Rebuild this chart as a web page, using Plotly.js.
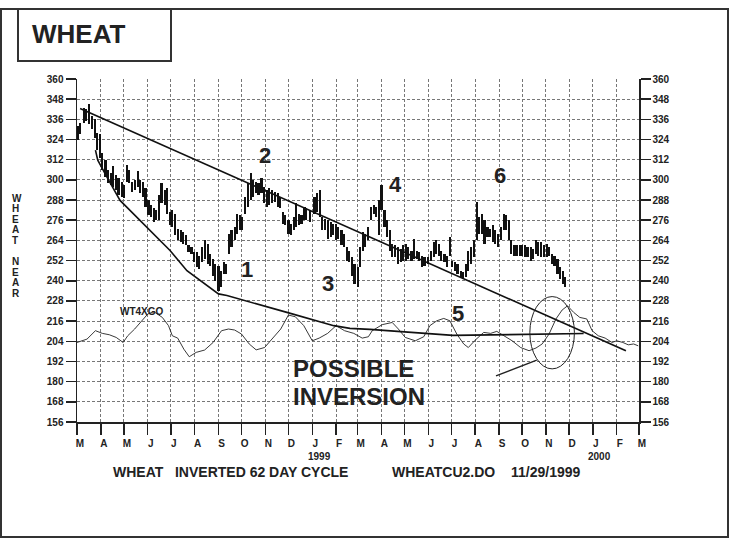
<!DOCTYPE html>
<html>
<head>
<meta charset="utf-8">
<script src="https://cdn.plot.ly/plotly-3.0.1.min.js"></script>
<style>
html, body { margin: 0; padding: 0; background: #fff; }
#chart { width: 731px; height: 539px; }
</style>
</head>
<body>
<div id="chart"></div>
<script>
// half-weekly high/low bars
var barDates = [
  '1998-03-02','1998-03-05','1998-03-10','1998-03-13','1998-03-17','1998-03-20','1998-03-24','1998-03-27','1998-03-31',
  '1998-04-03','1998-04-07','1998-04-10','1998-04-14','1998-04-17','1998-04-21','1998-04-24','1998-04-28',
  '1998-05-01','1998-05-05','1998-05-08','1998-05-12','1998-05-15','1998-05-19','1998-05-22','1998-05-26','1998-05-29',
  '1998-06-02','1998-06-05','1998-06-09','1998-06-12','1998-06-16','1998-06-19','1998-06-23','1998-06-26','1998-06-30',
  '1998-07-03','1998-07-07','1998-07-10','1998-07-14','1998-07-17','1998-07-21','1998-07-24','1998-07-28','1998-07-31',
  '1998-08-04','1998-08-07','1998-08-11','1998-08-14','1998-08-18','1998-08-21','1998-08-25','1998-08-28',
  '1998-09-01','1998-09-04','1998-09-08','1998-09-11','1998-09-15','1998-09-18','1998-09-22','1998-09-25','1998-09-29',
  '1998-10-02','1998-10-06','1998-10-09','1998-10-13','1998-10-16','1998-10-20','1998-10-23','1998-10-27','1998-10-30',
  '1998-11-03','1998-11-06','1998-11-10','1998-11-13','1998-11-17','1998-11-20','1998-11-24','1998-11-27',
  '1998-12-01','1998-12-04','1998-12-08','1998-12-11','1998-12-15','1998-12-18','1998-12-22','1998-12-24','1998-12-29',
  '1999-01-04','1999-01-07','1999-01-11','1999-01-14','1999-01-18','1999-01-21','1999-01-25','1999-01-28',
  '1999-02-01','1999-02-04','1999-02-08','1999-02-11','1999-02-15','1999-02-18','1999-02-22','1999-02-25',
  '1999-03-01','1999-03-04','1999-03-08','1999-03-11','1999-03-15','1999-03-18','1999-03-22','1999-03-25','1999-03-29',
  '1999-04-01','1999-04-05','1999-04-08','1999-04-12','1999-04-15','1999-04-19','1999-04-22','1999-04-26','1999-04-29',
  '1999-05-03','1999-05-06','1999-05-10','1999-05-13','1999-05-17','1999-05-20','1999-05-24','1999-05-27',
  '1999-06-01','1999-06-04','1999-06-08','1999-06-11','1999-06-15','1999-06-18','1999-06-22','1999-06-25','1999-06-29',
  '1999-07-02','1999-07-06','1999-07-09','1999-07-13','1999-07-16','1999-07-20','1999-07-23','1999-07-27','1999-07-30',
  '1999-08-03','1999-08-06','1999-08-10','1999-08-13','1999-08-17','1999-08-20','1999-08-24','1999-08-27','1999-08-31',
  '1999-09-03','1999-09-07','1999-09-10','1999-09-14','1999-09-17','1999-09-21','1999-09-24','1999-09-28',
  '1999-10-01','1999-10-05','1999-10-08','1999-10-12','1999-10-15','1999-10-19','1999-10-22','1999-10-26','1999-10-29',
  '1999-11-02','1999-11-05','1999-11-09','1999-11-12','1999-11-16','1999-11-19','1999-11-23','1999-11-26'
];
var highs = [
  332,334,343,342,345,338,336,328,327,
  316,312,306,304,308,303,301,299,
  297,309,306,299,300,305,300,299,295,
  288,285,283,282,291,298,294,295,281,
  282,280,271,270,269,267,261,260,257,
  257,255,260,264,262,256,253,250,
  249,246,251,250,268,270,272,280,279,
  278,290,298,304,300,299,298,301,296,
  294,295,294,293,292,290,281,279,
  276,274,278,286,280,279,284,283,282,
  290,292,294,278,277,276,275,274,
  274,272,270,268,260,258,254,250,
  248,260,269,268,272,284,285,284,288,
  297,282,276,270,262,261,260,259,261,
  262,260,258,265,258,257,255,254,
  254,258,263,264,262,258,256,255,266,
  252,251,250,246,245,250,258,260,264,
  287,278,280,276,272,271,273,270,268,
  272,280,279,276,264,261,261,261,
  261,261,260,260,259,264,263,263,261,
  262,260,256,255,253,248,246,242
];
var lows = [
  324,327,334,335,333,330,325,318,313,
  306,302,298,297,296,294,291,290,
  289,299,298,293,294,296,292,290,284,
  279,278,275,276,276,286,285,280,273,
  272,267,264,263,262,261,257,256,251,
  248,247,251,253,250,249,243,240,
  234,236,244,244,256,260,264,268,270,
  270,280,284,288,290,292,291,292,286,
  284,285,286,287,284,283,274,273,
  268,267,270,272,273,274,276,276,275,
  280,281,278,270,270,265,266,267,
  264,265,261,260,252,251,243,238,
  236,248,258,260,264,276,280,278,267,
  282,272,266,258,254,254,250,251,252,
  252,253,252,253,253,252,248,249,
  250,252,254,256,255,252,251,248,255,
  248,246,244,242,241,242,246,250,254,
  264,268,268,262,266,266,263,262,260,
  264,270,270,264,256,255,255,255,
  255,254,254,252,253,256,255,254,254,
  254,255,250,249,244,241,238,236
];

// WT4XGO cycle line
var oscDates = [
  '1998-03-01','1998-03-14','1998-03-25','1998-04-03','1998-04-12','1998-04-21','1998-04-30','1998-05-06',
  '1998-05-15','1998-05-24','1998-06-01','1998-06-09','1998-06-20','1998-06-28','1998-07-03','1998-07-10',
  '1998-07-18','1998-07-25','1998-08-03','1998-08-14','1998-08-25','1998-09-05','1998-09-14','1998-09-22',
  '1998-10-01','1998-10-11','1998-10-20','1998-10-31','1998-11-10','1998-11-21','1998-12-01','1998-12-10',
  '1998-12-21','1999-01-01','1999-01-10','1999-01-21','1999-02-01','1999-02-12','1999-02-24','1999-03-07',
  '1999-03-15','1999-03-20','1999-04-02','1999-04-15','1999-04-23','1999-05-02','1999-05-15','1999-05-26',
  '1999-06-03','1999-06-12','1999-06-21','1999-06-29','1999-07-08','1999-07-17','1999-07-23','1999-08-01',
  '1999-08-12','1999-08-21','1999-08-29','1999-09-07','1999-09-18','1999-09-29','1999-10-10','1999-10-19',
  '1999-10-27','1999-11-05','1999-11-14','1999-11-22','1999-11-29','1999-12-07','1999-12-15','1999-12-24',
  '1999-12-31','2000-01-08','2000-01-17','2000-01-26','2000-02-01','2000-02-09','2000-02-16','2000-02-23','2000-02-29'
];
var oscValues = [
  203.3,205.3,210.3,208.7,207.9,206.3,203.3,207.3,
  211.3,216.2,220.2,221.6,218.2,213.3,207.3,205.9,
  199.3,194.8,197.4,198.8,203.3,210.3,211.3,210.7,
  208.3,202.4,198.9,200.3,205.3,211.3,219.6,218.6,
  213.3,204.3,205.9,208.7,213.3,210.3,208.7,205.9,
  206.7,210.3,213.9,215.2,211.3,206.3,204.3,206.7,
  213.3,216.2,217.6,216.2,208.3,202.4,200.3,204.7,
  209.3,208.7,209.9,207.3,204.3,200.3,198.4,200.0,
  202.4,208.3,217.3,222.6,225.1,221.2,218.2,217.3,
  210.3,207.3,205.9,203.3,204.3,203.3,201.9,202.4,201.3
];

// drawn lines
var trendDates = ['1998-03-05', '2000-02-13'];
var trendValues = [342.5, 198.4];
var supportDates = ['1998-03-25','1998-03-28','1998-04-09','1998-04-26','1998-06-30','1998-07-22','1998-09-01',
  '1998-09-12','1998-11-29','1999-01-29','1999-02-19','1999-03-17','1999-07-03','1999-12-20'];
var supportValues = [317.7,311.7,301.7,287.8,258,246,232.2,231.2,221.2,213.3,211.7,211.1,207.5,208.6];

var ovalDates = ['1999-10-11', '1999-12-08'];
var ovalValues = [187.6, 230.6];
var pointerDates = ['1999-08-28', '1999-10-20'];
var pointerValues = [183.4, 192.8];

var cycleLabels = ['1', '2', '3', '4', '5', '6'];
var cycleDates = ['1998-10-08','1998-11-01','1999-01-21','1999-04-19','1999-07-10','1999-09-02'];
var cycleValues = [246.5, 314.7, 238.1, 297.4, 220.3, 302.7];

var monthLetters = ['M','A','M','J','J','A','S','O','N','D','J','F','M','A','M','J','J','A','S','O','N','D','J','F','M'];
var priceTicks = [156,168,180,192,204,216,228,240,252,264,276,288,300,312,324,336,348,360];

var FONT = 'Liberation Sans, Arial, Helvetica, sans-serif';

// plot area in pixels: left 77, right 639, top 79, bottom 422
function px(x) { return (x - 77) / 562; }
function py(y) { return (422 - y) / 343; }

var monthTicks = [];
for (var i = 0; i < monthLetters.length; i++) {
  var yr = 1998 + Math.floor((2 + i) / 12);
  var mo = (2 + i) % 12 + 1;
  monthTicks.push(yr + '-' + (mo < 10 ? '0' + mo : mo) + '-01');
}

var barSpan = [];
for (var k = 0; k < highs.length; k++) barSpan.push(highs[k] - lows[k]);

var traces = [
  {
    x: barDates, y: barSpan, base: lows, type: 'bar',
    width: 2.8 * 86400000,
    marker: {color: '#111', line: {width: 0}},
    hoverinfo: 'skip'
  },
  {
    x: oscDates, y: oscValues, mode: 'lines',
    line: {color: '#222', width: 0.9},
    hoverinfo: 'skip'
  },
  {
    x: supportDates, y: supportValues, mode: 'lines',
    line: {color: '#111', width: 1.6},
    hoverinfo: 'skip'
  },
  {
    x: trendDates, y: trendValues, mode: 'lines', yaxis: 'y2',
    line: {color: '#111', width: 1.6},
    hoverinfo: 'skip'
  }
];

var annotations = [
  {xref: 'paper', yref: 'paper', x: px(30), y: py(34), xanchor: 'left', yanchor: 'middle',
   text: 'WHEAT', showarrow: false, font: {family: FONT, size: 26, weight: 'bold', color: '#222'}},
  {x: '1998-05-24', y: 222, text: 'WT4XGO', showarrow: false, yanchor: 'middle',
   font: {family: FONT, size: 10, weight: 'bold', color: '#222'}},
  {x: '1998-12-04', y: 187.6, xanchor: 'left', text: 'POSSIBLE', showarrow: false,
   font: {family: FONT, size: 24, weight: 'bold', color: '#222'}},
  {x: '1998-12-04', y: 170.9, xanchor: 'left', text: 'INVERSION', showarrow: false,
   font: {family: FONT, size: 24, weight: 'bold', color: '#222'}},
  {x: '1999-01-01', xshift: 7, xref: 'x', yref: 'paper', y: py(456), yanchor: 'middle', text: '1999', showarrow: false,
   font: {family: FONT, size: 10, weight: 'bold', color: '#222'}},
  {x: '2000-01-01', xshift: 7, xref: 'x', yref: 'paper', y: py(456), yanchor: 'middle', text: '2000', showarrow: false,
   font: {family: FONT, size: 10, weight: 'bold', color: '#222'}},
  {xref: 'paper', yref: 'paper', x: px(111), y: py(472), xanchor: 'left', yanchor: 'middle',
   text: 'WHEAT&nbsp;&nbsp;&nbsp;INVERTED 62 DAY CYCLE',
   showarrow: false, font: {family: FONT, size: 14, weight: 'bold', color: '#222'}},
  {xref: 'paper', yref: 'paper', x: px(390), y: py(472), xanchor: 'left', yanchor: 'middle', text: 'WHEATCU2.DO',
   showarrow: false, font: {family: FONT, size: 14, weight: 'bold', color: '#222'}},
  {xref: 'paper', yref: 'paper', x: px(509), y: py(472), xanchor: 'left', yanchor: 'middle', text: '11/29/1999',
   showarrow: false, font: {family: FONT, size: 14, weight: 'bold', color: '#222'}}
];

for (var c = 0; c < cycleLabels.length; c++) {
  annotations.push({x: cycleDates[c], y: cycleValues[c], text: cycleLabels[c], showarrow: false,
    font: {family: FONT, size: 22, weight: 'bold', color: '#222'}});
}

// vertical axis title, one letter per line
var yTitle = 'WHEAT NEAR';
for (var t = 0; t < yTitle.length; t++) {
  if (yTitle[t] === ' ') continue;
  annotations.push({xref: 'paper', yref: 'paper', x: px(10), y: py(198 + t * 10.6), yanchor: 'middle', text: yTitle[t],
    showarrow: false, font: {family: FONT, size: 10, weight: 'bold', color: '#222'}});
}

var shapes = [
  {type: 'rect', xref: 'paper', yref: 'paper', x0: px(1), x1: px(728), y0: py(537), y1: py(9),
   line: {color: '#333', width: 2}},
  {type: 'rect', xref: 'paper', yref: 'paper', x0: px(18), x1: px(171), y0: py(61), y1: py(9),
   line: {color: '#333', width: 2}},
  {type: 'circle', xref: 'x', yref: 'y', x0: ovalDates[0], x1: ovalDates[1], y0: ovalValues[0], y1: ovalValues[1],
   line: {color: '#222', width: 1}},
  {type: 'line', xref: 'x', yref: 'y', x0: pointerDates[0], x1: pointerDates[1], y0: pointerValues[0], y1: pointerValues[1],
   line: {color: '#222', width: 1.3}}
];

var tickFont = {family: FONT, size: 10, weight: 'bold', color: '#222'};

var layout = {
  width: 731, height: 539,
  margin: {l: 77, r: 92, t: 79, b: 117},
  paper_bgcolor: '#fff', plot_bgcolor: '#fff',
  showlegend: false,
  bargap: 0,
  xaxis: {
    type: 'date', range: ['1998-03-01', '2000-03-01'],
    tickmode: 'array', tickvals: monthTicks, ticktext: monthLetters,
    ticks: 'outside', ticklen: 11, tickwidth: 1.5, tickcolor: '#222',
    ticklabelshift: 3,
    showline: true, linecolor: '#222', linewidth: 1.5,
    showgrid: true, gridcolor: '#777', gridwidth: 1, griddash: '3px,2px',
    zeroline: false, tickfont: tickFont, fixedrange: true
  },
  yaxis: {
    range: [156, 360], tickmode: 'array', tickvals: priceTicks,
    ticks: 'outside', ticklen: 10, tickwidth: 1.5, tickcolor: '#222',
    showline: true, linecolor: '#222', linewidth: 1.5,
    showgrid: true, gridcolor: '#777', gridwidth: 1, griddash: '3px,2px',
    zeroline: false, tickfont: tickFont, fixedrange: true
  },
  yaxis2: {
    range: [156, 360], overlaying: 'y', side: 'right', tickmode: 'array', tickvals: priceTicks,
    ticks: 'outside', ticklen: 10, tickwidth: 1.5, tickcolor: '#222',
    showline: true, linecolor: '#222', linewidth: 1.5,
    showgrid: false, zeroline: false, tickfont: tickFont, fixedrange: true
  },
  annotations: annotations,
  shapes: shapes
};

Plotly.newPlot('chart', traces, layout, {displayModeBar: false, staticPlot: true});
</script>
</body>
</html>
